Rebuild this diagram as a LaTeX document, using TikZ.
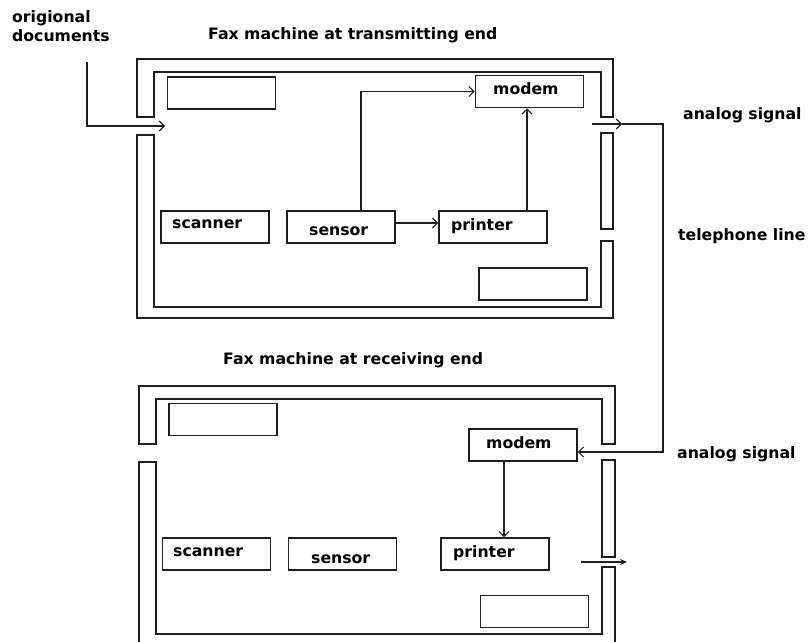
\documentclass[tikz,border=0pt]{standalone}
\usepackage{fontspec}
\setmainfont{DejaVu Sans}
\usetikzlibrary{arrows.meta}
\definecolor{ink}{HTML}{1E1E1E}
\begin{document}
\begin{tikzpicture}[x=1pt,y=-1pt,
  wall/.style={draw=ink, line width=1.6pt, line join=miter},
  box/.style={draw=ink, line width=1.6pt, minimum width=108pt, minimum height=32pt, inner sep=0pt},
  lbl/.style={font=\fontsize{15.7}{18}\selectfont\bfseries, text=black, inner sep=0pt, anchor=base west},
  flow/.style={draw=ink, line width=1.3pt, -{Straight Barb[length=5pt,width=10pt,line width=1.1pt]}},
  wire/.style={draw=ink, line width=1.3pt},
  outflow/.style={draw=ink, line width=1.3pt, -{Stealth[length=7pt,width=6pt]}}]
\clip (0,0) rectangle (809,642);
\fill[white] (0,0) rectangle (809,642);

% ---------- transmitting machine: housing ----------
\draw[wall] (137,117) -- (137,59) -- (613,59) -- (613,117) -- (601,117) -- (601,72) -- (154,72) -- (154,117) -- cycle;
\draw[wall] (137,135) -- (137,318) -- (613,318) -- (613,241) -- (601,241) -- (601,307) -- (154,307) -- (154,135) -- cycle;
\draw[wall] (601,133) rectangle (613,229);

% ---------- transmitting machine: parts ----------
\node[box] (tpanel) at (221.5,93) {};
\node[box] (tmodem) at (529.5,91.5) {};
\node[box] (tscan)  at (215,227) {};
\node[box] (tsens)  at (341,227) {};
\node[box] (tprint) at (493,227) {};
\node[box] (tdisp)  at (533,284) {};

\node[lbl] (tmodem-t) at (493,95)  {modem};
\node[lbl] (tscan-t)  at (172,228) {scanner};
\node[lbl] (tsens-t)  at (309,235) {sensor};
\node[lbl] (tprint-t) at (451,230) {printer};

% ---------- receiving machine: housing ----------
\draw[wall] (139,444) -- (139,386) -- (615,386) -- (615,444) -- (602,444) -- (602,399) -- (156,399) -- (156,444) -- cycle;
\draw[wall] (139,462) -- (139,660) -- (615,660) -- (615,567) -- (602,567) -- (602,634) -- (156,634) -- (156,462) -- cycle;
\draw[wall] (602,460) rectangle (615,557);

% ---------- receiving machine: parts ----------
\node[box] (bpanel) at (223,419.5) {};
\node[box] (bmodem) at (523,445) {};
\node[box] (bscan)  at (216.5,554) {};
\node[box] (bsens)  at (342.5,554) {};
\node[box] (bprint) at (495,554) {};
\node[box] (bdisp)  at (534.5,611.5) {};

\node[lbl] (bmodem-t) at (486,448) {modem};
\node[lbl] (bscan-t)  at (173,556) {scanner};
\node[lbl] (bsens-t)  at (311,563) {sensor};
\node[lbl] (bprint-t) at (453,557) {printer};

% ---------- titles and labels ----------
\node[lbl] (docs1) at (12,23) {origional};
\node[lbl] (docs2) at (12,42) {documents};
\node[lbl] (ttitle) at (208,40) {Fax machine at transmitting end};
\node[lbl] (btitle) at (223,364) {Fax machine at receiving end};
\node[lbl] (sig1) at (683,119) {analog signal};
\node[lbl] (line) at (678,240) {telephone line};
\node[lbl] (sig2) at (677,458) {analog signal};

% ---------- connections ----------
\coordinate (docsin) at (87,62);
\coordinate (feed) at (165,126);
\draw[flow] (docsin) |- (feed);

\coordinate (sensup) at ([xshift=20pt]tsens.north);
\draw[flow] (sensup) |- (tmodem.west);
\draw[flow] ([yshift=4pt]tsens.east) -- ([yshift=4pt]tprint.west);
\coordinate (printup) at ([xshift=34pt]tprint.north);
\draw[flow] (printup) -- (printup |- tmodem.south);

\coordinate (txout) at (592,124);
\coordinate (txtip) at (622,124);
\coordinate (tcorner) at (663,124);
\coordinate (bcorner) at (663,452);
\draw[flow] (txout) -- (txtip);
\draw[flow] (txtip) -- (tcorner) -- (bcorner) -- (bcorner -| bmodem.east);

\coordinate (bdown) at ([xshift=-19pt]bmodem.south);
\draw[flow] (bdown) -- (bdown |- bprint.north);

\coordinate (rxout) at (581,562);
\coordinate (rxtip) at (627,562);
\draw[outflow] (rxout) -- (rxtip);
\end{tikzpicture}
\end{document}
